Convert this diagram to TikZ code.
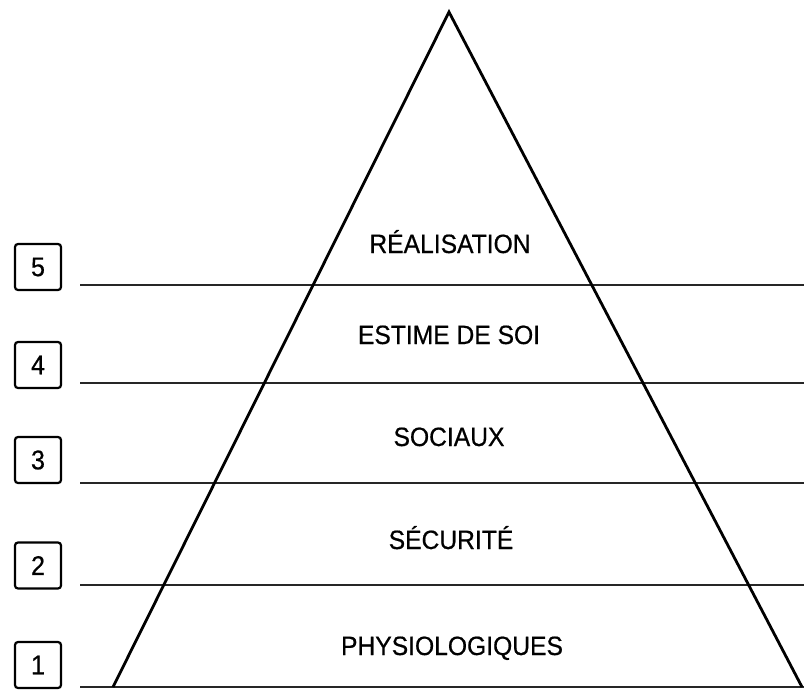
\documentclass[tikz,border=0pt]{standalone}
\usepackage{fontspec}
\setmainfont{Liberation Sans}
\newfontfamily\lblfont[FakeStretch=0.93,FakeBold=0.6]{Liberation Sans}
\begin{document}
\begin{tikzpicture}[x=1pt,y=-1pt,
  level/.style={draw=black!85,line width=2pt},
  tri/.style={draw=black,line width=2.8pt,line join=miter},
  numbox/.style={draw=black,line width=2.2pt,rounded corners=3pt,minimum width=46pt,minimum height=46pt,inner sep=0pt,font=\lblfont\fontsize{27}{30}\selectfont},
  lbl/.style={anchor=base,inner sep=0pt,font=\lblfont\fontsize{26.5}{30}\selectfont}]
\useasboundingbox (0,0) rectangle (804,689);
% level lines
\foreach \n/\y in {5/285,4/382.5,3/483,2/584.5,1/687}{
  \coordinate (l\n a) at (80,\y);
  \coordinate (l\n b) at (804,\y);
  \draw[level] (l\n a) -- (l\n b);
}
% triangle
\coordinate (apex) at (449,12);
\coordinate (bl) at (113,687);
\coordinate (br) at (802,687);
\draw[tri] (bl) -- (apex) -- (br);
% labels
\node[lbl] (t5) at (450,253) {RÉALISATION};
\node[lbl] (t4) at (449,344) {ESTIME DE SOI};
\node[lbl] (t3) at (449,446) {SOCIAUX};
\node[lbl] (t2) at (451,549) {SÉCURITÉ};
\node[lbl] (t1) at (452,655) {PHYSIOLOGIQUES};
% number boxes
\node[numbox] (b5) at (38,267) {5};
\node[numbox] (b4) at (38,365) {4};
\node[numbox] (b3) at (38,460) {3};
\node[numbox] (b2) at (38,565.5) {2};
\node[numbox] (b1) at (38,665) {1};
\end{tikzpicture}
\end{document}
